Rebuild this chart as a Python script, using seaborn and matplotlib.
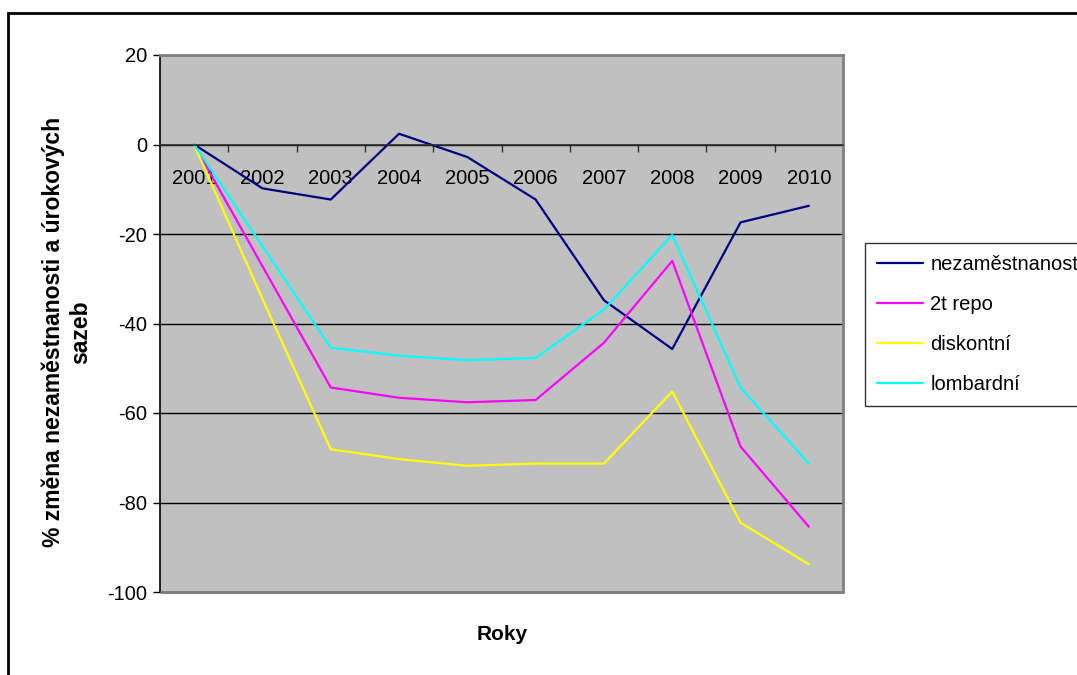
import numpy as np
import pandas as pd
import matplotlib
matplotlib.use("Agg")
import matplotlib.pyplot as plt
from matplotlib.patches import Rectangle
import seaborn as sns

# Roky a procentní změny oproti roku 2001
years = [2001, 2002, 2003, 2004, 2005, 2006, 2007, 2008, 2009, 2010]
nezamestnanost = [0, -9.8, -12.3, 2.4, -2.8, -12.3, -34.8, -45.7, -17.4, -13.7]
repo_2t = [0, -27.2, -54.3, -56.6, -57.6, -57.1, -44.3, -26.0, -67.5, -85.4]
diskontni = [0, -34.5, -68.1, -70.3, -71.8, -71.3, -71.3, -55.2, -84.5, -93.8]
lombardni = [0, -22.7, -45.4, -47.2, -48.2, -47.7, -36.9, -20.2, -54.3, -71.3]

series_names = ["nezaměstnanost", "2t repo", "diskontní", "lombardní"]
series_values = [nezamestnanost, repo_2t, diskontni, lombardni]
series_colors = ["#000080", "#FF00FF", "#FFFF00", "#00FFFF"]

y_ticks = [-100, -80, -60, -40, -20, 0, 20]

df = pd.concat(
    [pd.DataFrame({"rok": years, "hodnota": vals, "rada": name})
     for name, vals in zip(series_names, series_values)],
    ignore_index=True,
)

sns.set_style("white")
plt.rcParams["font.family"] = ["Liberation Sans", "DejaVu Sans"]
plt.rcParams["text.color"] = "black"
plt.rcParams["xtick.color"] = "black"
plt.rcParams["ytick.color"] = "black"
plt.rcParams["axes.labelcolor"] = "black"

fig = plt.figure(figsize=(10.77, 6.75), dpi=100)
ax = fig.add_axes([160 / 1077, 1 - 592 / 675, 683 / 1077, 537 / 675])
ax.set_facecolor("#C0C0C0")

sns.lineplot(
    data=df, x="rok", y="hodnota", hue="rada",
    palette=dict(zip(series_names, series_colors)),
    hue_order=series_names, linewidth=1.6, ax=ax, legend=False,
    sort=False,
)

ax.set_xlim(years[0] - 0.5, years[-1] + 0.5)
ax.set_ylim(y_ticks[0], y_ticks[-1])

# Horizontal gridlines
ax.set_yticks(y_ticks)
ax.set_yticklabels([str(t) for t in y_ticks], fontsize=14.5)
ax.yaxis.grid(True, color="#000000", linewidth=1.0)
ax.set_axisbelow(True)
ax.tick_params(axis="y", direction="out", length=5, width=1, color="#000000",
               pad=4, left=True)

# Category axis crossing at zero, with ticks between categories
ax.spines["bottom"].set_position(("data", 0))
ax.spines["bottom"].set_color("#303030")
ax.spines["bottom"].set_linewidth(1.2)
ax.set_xticks(np.arange(years[0] + 0.5, years[-1] + 1, 1))
ax.set_xticklabels([])
ax.tick_params(axis="x", which="major", direction="out", length=5, width=1,
               color="#303030", bottom=True)
ax.set_xticks(years, minor=True)
ax.set_xticklabels([str(y) for y in years], minor=True, fontsize=14.5)
ax.tick_params(axis="x", which="minor", length=0, pad=18)

# Plot-area frame
ax.spines["left"].set_color("#000000")
ax.spines["left"].set_linewidth(1.2)
for side in ["top", "right"]:
    ax.spines[side].set_color("#808080")
    ax.spines[side].set_linewidth(2)
ax.add_patch(Rectangle((0, 0), 1, 0, transform=ax.transAxes, fill=False,
                       edgecolor="#808080", linewidth=2.2, clip_on=False,
                       zorder=5))

ax.set_xlabel("")
ax.set_ylabel("")
fig.text(502 / 1077, 1 - 635 / 675, "Roky", fontsize=15, fontweight="bold",
         ha="center", va="center")
fig.text(67 / 1077, 1 - 332 / 675,
         "% změna nezaměstnanosti a úrokových\nsazeb",
         fontsize=16.5, fontweight="bold", rotation=90, ha="center",
         va="center", multialignment="center", linespacing=1.2)

# Legend
handles = [plt.Line2D([], [], color=c, linewidth=1.6) for c in series_colors]
leg = fig.legend(handles, series_names, loc="upper left",
                 bbox_to_anchor=(865 / 1077, 1 - 243 / 675),
                 frameon=True, fancybox=False, shadow=False, fontsize=14.5,
                 handlelength=2.3, handletextpad=0.35, labelspacing=1.04,
                 borderpad=0.6, borderaxespad=0)
leg.get_frame().set_edgecolor("#000000")
leg.get_frame().set_linewidth(1.0)
leg.get_frame().set_facecolor("white")

# Outer chart border
fig.patches.append(Rectangle((8 / 1077, -0.2), 1.2, 1.2 - 13 / 675,
                             transform=fig.transFigure, fill=False,
                             edgecolor="#000000", linewidth=2))

fig.savefig("out.png", dpi=100, facecolor="white")
